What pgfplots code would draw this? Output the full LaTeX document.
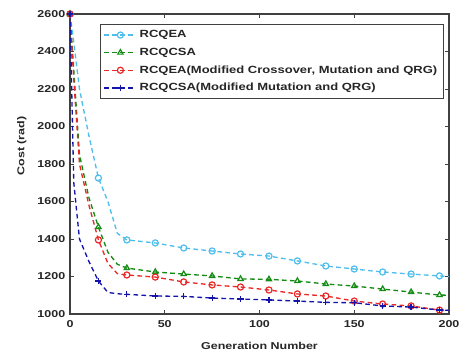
\documentclass[border=0pt]{standalone}
\usepackage{pgfplots}
\pgfplotsset{compat=1.18}
\usepackage{fontspec}
\setmainfont[FakeStretch=1.25]{Liberation Sans}
\definecolor{cCyan}{RGB}{77,190,238}
\definecolor{cGreen}{RGB}{20,140,20}
\definecolor{cRed}{RGB}{235,40,40}
\definecolor{cBlue}{RGB}{20,20,170}
\begin{document}
\begin{tikzpicture}
\begin{axis}[name=ax,
  scale only axis, width=284.25pt, height=225pt,
  xmin=0, xmax=200, ymin=1000, ymax=2600,
  xtick={0,50,100,150,200}, ytick={1000,1200,...,2600},
  tick align=inside, major tick length=3pt,
  axis line style={draw=black!75, line width=0.9pt},
  every tick/.style={black!75, line width=0.6pt},
  /pgf/number format/assume math mode=true,
  /pgf/number format/1000 sep={},
  tick label style={font=\fontsize{7.5}{9}\selectfont\bfseries, text=black!85},
  xticklabel style={yshift=-1.5pt},
  xlabel={\bfseries Generation Number}, ylabel={\bfseries Cost (rad)},
  label style={font=\fontsize{7.5}{9}\selectfont, text=black!85},
  xlabel style={at={(axis description cs:0.5,-0.108)}, anchor=center},
  ylabel style={at={(axis description cs:-0.127,0.56)}, anchor=center},
  legend style={at={(0.079,0.967)}, anchor=north west, draw=black!75, line width=0.8pt,
    font=\fontsize{7.8}{9.5}\selectfont\bfseries, text=black!85, inner sep=2.5pt, row sep=2.2pt},
  legend cell align=left,
  legend image code/.code={\draw[#1, mark indices={2}] plot coordinates {(0cm,0cm) (0.42cm,0cm) (0.84cm,0cm)};},
  every axis plot/.append style={dashed, dash pattern=on 3.5pt off 2.5pt, line width=1pt,
    mark options={solid, line width=0.9pt}, mark size=2.3pt},
  mark indices={1,5,8,9,10,11,12,13,14,15,16,17,18,19},
]
\addplot[color=cCyan, mark=o] coordinates {
(0,2600) (2,2450) (5,2200) (10,1950) (15,1725) (20,1600) (25,1430) (30,1395) (45,1379) (60,1352) (75,1336) (90,1320) (105,1309) (120,1283) (135,1256) (150,1240) (165,1224) (180,1213) (195,1203) (200,1200)};
\addlegendentry{RCQEA}
\addplot[color=cGreen, mark=triangle] coordinates {
(0,2600) (2,2300) (5,1850) (10,1620) (15,1464) (20,1330) (25,1265) (30,1245) (45,1224) (60,1213) (75,1203) (90,1187) (105,1185) (120,1176) (135,1160) (150,1149) (165,1133) (180,1117) (195,1101) (200,1100)};
\addlegendentry{RCQCSA}
\addplot[color=cRed, mark=o] coordinates {
(0,2600) (2,2250) (5,1800) (10,1580) (15,1395) (20,1270) (25,1215) (30,1208) (45,1197) (60,1171) (75,1155) (90,1144) (105,1128) (120,1107) (135,1096) (150,1069) (165,1053) (180,1043) (195,1021) (200,1020)};
\addlegendentry{RCQEA(Modified Crossover, Mutation and QRG)}
\addplot[color=cBlue, mark=+] coordinates {
(0,2600) (2,1700) (5,1400) (10,1280) (15,1176) (20,1115) (25,1108) (30,1105) (45,1096) (60,1094) (75,1085) (90,1080) (105,1075) (120,1069) (135,1062) (150,1060) (165,1043) (180,1037) (195,1021) (200,1020)};
\addlegendentry{RCQCSA(Modified Mutation and QRG)}
\end{axis}
\pgfresetboundingbox
\path[use as bounding box] (ax.south west) ++(-52.5pt,-30pt) rectangle ([shift={(9.75pt,10.5pt)}]ax.north east);
\end{tikzpicture}
\end{document}
